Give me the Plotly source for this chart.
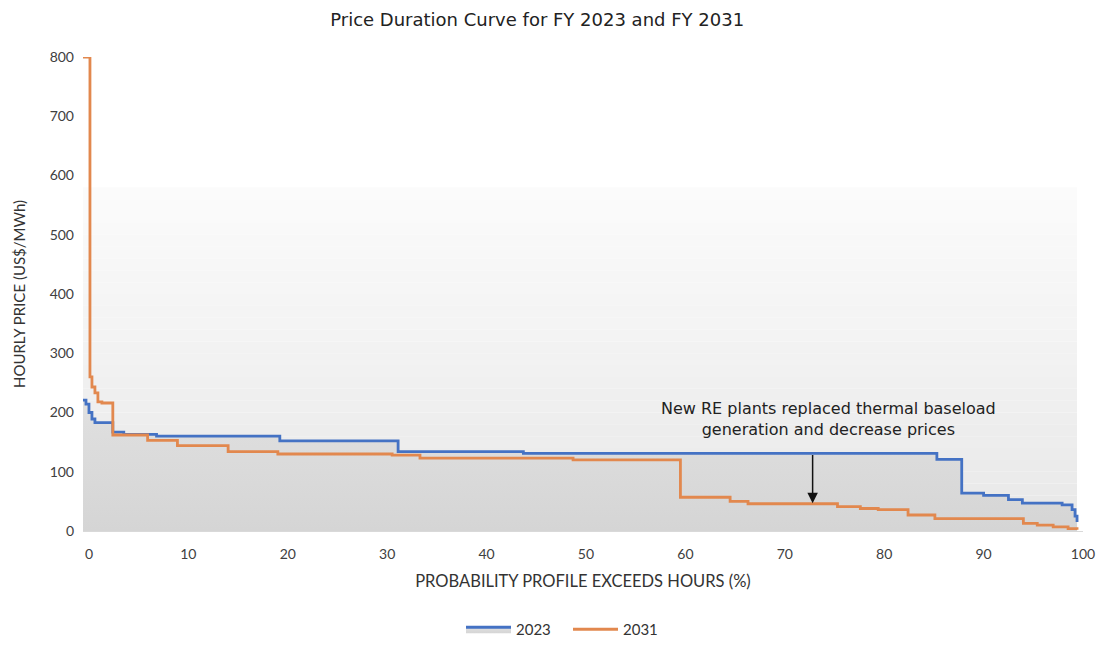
import plotly.graph_objects as go

# duration curve steps (x = % of hours exceeded, y = US$/MWh)
pct_2023 = [-0.6, -0.3, 0.0, 0.3, 0.6, 2.4, 3.5, 6.8, 19.2, 31.1, 43.7, 85.3,
            87.8, 90.0, 92.5, 93.9, 97.9, 98.9, 99.2, 99.4]
price_2023 = [221, 214, 200, 189, 183, 167, 163, 160, 152, 134, 131, 121,
              64, 60, 53, 47, 44, 36, 25, 15]

pct_2031 = [-0.6, 0.1, 0.3, 0.6, 0.9, 1.3, 2.4, 5.9, 8.9, 14.0, 19.0, 30.5,
            33.3, 48.7, 59.5, 64.5, 66.3, 75.3, 77.6, 79.4, 82.4, 85.1, 94.0,
            95.4, 97.0, 98.5, 99.4]
price_2031 = [800, 260, 243, 233, 218, 216, 162, 153, 144, 134, 130, 128,
              123, 120, 57, 50, 46, 41, 38, 36, 27, 21, 13, 10, 7, 4, 2]

x_ticks = [0, 10, 20, 30, 40, 50, 60, 70, 80, 90, 100]
y_ticks = [0, 100, 200, 300, 400, 500, 600, 700, 800]

BLUE = "#4472C4"
ORANGE = "#E2884E"

fig = go.Figure()

fig.add_trace(go.Scatter(
    x=pct_2023, y=price_2023, name="2023", mode="lines",
    line=dict(color=BLUE, width=2.8, shape="hv"),
    fill="tozeroy",
    fillgradient=dict(type="vertical", start=0, stop=221,
                      colorscale=[[0, "#d5d5d5"], [1, "#e0e0e0"]]),
))
fig.add_trace(go.Scatter(
    x=pct_2031, y=price_2031, name="2031", mode="lines",
    line=dict(color=ORANGE, width=2.8, shape="hv"),
    cliponaxis=False,
))

# soft vertical gradient behind the curves
n_bands = 29
for i in range(n_bands):
    t = i / (n_bands - 1)
    c = int(round(232 + (251 - 232) * t))
    fig.add_shape(type="rect", xref="x", yref="y", layer="below",
                  x0=-0.6, x1=99.4, y0=i * 20, y1=(i + 1) * 20,
                  line=dict(width=0), fillcolor=f"rgb({c},{c},{c})")

fig.add_annotation(
    x=72.8, y=47, ax=72.8, ay=131, xref="x", yref="y", axref="x", ayref="y",
    text="", showarrow=True, arrowhead=2, arrowsize=1.4, arrowwidth=1.5,
    arrowcolor="#111111",
)
fig.add_annotation(
    x=74.4, y=189, xref="x", yref="y", showarrow=False,
    text="New RE plants replaced thermal baseload<br>generation and decrease prices",
    font=dict(family="DejaVu Sans", size=16, color="#222222"),
    align="center",
)

# page body adds an 8px offset, so the figure is drawn 8px smaller
fig.update_layout(
    width=1107, height=638,
    margin=dict(l=75, r=32, t=49, b=115),
    paper_bgcolor="white", plot_bgcolor="white",
    title=dict(text="Price Duration Curve for FY 2023 and FY 2031",
               x=0.478, xanchor="center", y=0.992, yanchor="top",
               font=dict(family="DejaVu Sans", size=18, color="#222222")),
    showlegend=True,
    legend=dict(orientation="h", x=0.485, xanchor="center",
                yref="container", y=0.0, yanchor="bottom",
                font=dict(family="Lato", size=15, color="#333333"),
                itemwidth=45, entrywidth=47),
    xaxis=dict(
        range=[-0.6, 100], tickvals=x_ticks, showgrid=False, zeroline=False,
        showline=True, linecolor="#d9d9d9", linewidth=1, ticks="",
        ticklabelstandoff=10,
        tickfont=dict(family="Lato", size=14, color="#404040"),
        title=dict(text="PROBABILITY PROFILE EXCEEDS HOURS (%)", standoff=14,
                   font=dict(family="Lato", size=16.5, color="#333333")),
    ),
    yaxis=dict(
        range=[0, 800], tickvals=y_ticks, showgrid=False, zeroline=False,
        showline=False, ticks="", ticklabelstandoff=8,
        tickfont=dict(family="Lato", size=14, color="#404040"),
        title=dict(text="HOURLY PRICE (US$/MWh)", standoff=20,
                   font=dict(family="Lato", size=15, color="#333333")),
    ),
)

fig.write_html("out.html")
